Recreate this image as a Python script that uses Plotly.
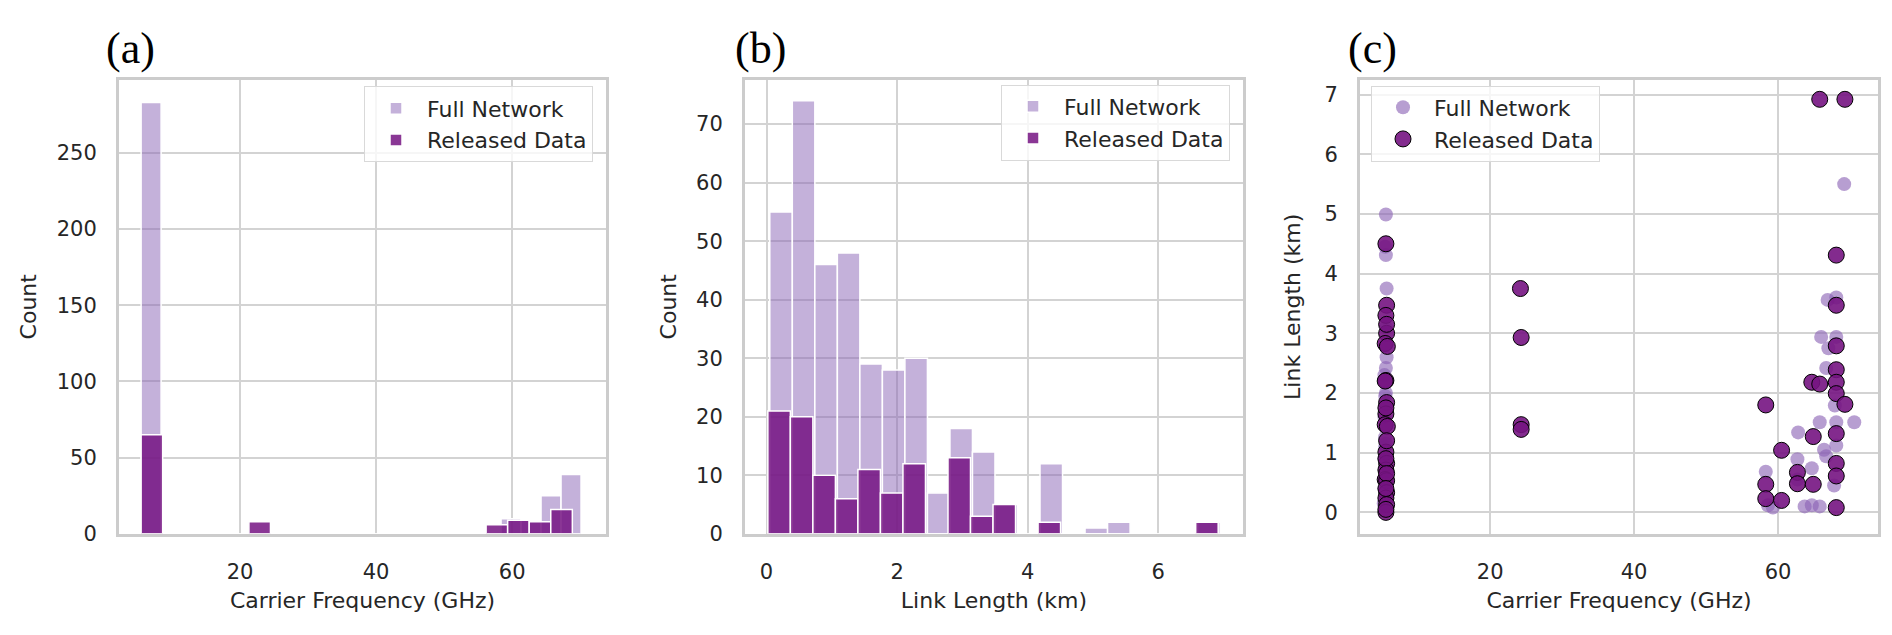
import plotly.graph_objects as go

# (a) carrier frequency histograms (GHz)
freq_full_start, freq_full_width = 5.45, 2.94
freq_full_counts = [283, 0, 0, 0, 0, 0, 0, 0, 0, 0, 0, 0, 0, 0, 0, 0, 0, 0, 10, 9, 25, 39]
freq_rel_start, freq_rel_width = 5.45, 3.17
freq_rel_counts = [65, 0, 0, 0, 0, 8, 0, 0, 0, 0, 0, 0, 0, 0, 0, 0, 6, 9, 8, 16]

# (b) link length histograms (km)
len_full_start, len_full_width = 0.05, 0.345
len_full_counts = [55, 74, 46, 48, 29, 28, 30, 7, 18, 14, 5, 0, 12, 0, 1, 2, 0, 0, 0, 2]
len_rel_start, len_rel_width = 0.02, 0.345
len_rel_counts = [21, 20, 10, 6, 11, 7, 12, 0, 13, 3, 5, 0, 2, 0, 0, 0, 0, 0, 0, 2]

# (c) scatter: frequency vs link length (visible points)
full_freq = [5.5, 5.4, 5.5, 5.6, 5.5, 5.4, 5.4, 5.5, 5.3, 5.5, 5.3, 5.4, 5.3, 5.3, 5.2, 5.6, 5.5,
             69.2, 66.9, 68.1, 66.0, 68.1, 67.0, 66.7, 67.9, 62.8, 65.8, 68.1, 70.6, 68.1, 62.7,
             66.7, 64.7, 58.3, 63.7, 65.8, 64.7, 59.3, 62.7, 58.6, 66.4, 67.8]
full_len = [4.99, 4.45, 4.31, 3.75, 2.42, 1.95, 1.26, 1.15, 2.30, 2.00, 1.60, 1.10, 0.90, 0.40, 0.15, 2.60, 3.10,
            5.50, 3.56, 3.60, 2.94, 2.94, 2.75, 2.42, 1.79, 1.34, 1.51, 1.51, 1.51, 1.12, 0.89,
            0.94, 0.74, 0.68, 0.10, 0.10, 0.12, 0.08, 0.55, 0.12, 1.05, 0.45]
rel_freq = [5.5, 5.6, 5.5, 5.6, 5.4, 5.7, 5.5, 5.4, 5.6, 5.5, 5.4, 5.7, 5.5, 5.6, 5.5, 5.4, 5.6,
            5.6, 5.5, 5.6, 5.5, 5.6, 5.5, 5.6, 5.5, 5.6, 5.5, 5.5,
            24.2, 24.3, 24.3, 24.3,
            65.8, 69.3, 68.1, 68.1, 68.1, 68.1, 64.7, 65.8, 68.1, 68.1, 69.3, 58.3, 64.9, 68.1,
            60.5, 68.1, 62.7, 62.7, 64.9, 58.3, 68.1, 58.3, 60.5, 68.1]
rel_len = [4.50, 3.47, 3.30, 3.00, 2.83, 2.78, 2.21, 2.20, 1.84, 1.65, 1.47, 1.44, 1.01, 0.82, 0.71, 0.55, 0.53,
           0.33, 0.24, 0.13, 0.00, 3.15, 0.90, 0.65, 0.40, 1.20, 1.75, 0.05,
           3.75, 2.93, 1.47, 1.39,
           6.92, 6.92, 4.31, 3.47, 2.79, 2.39, 2.18, 2.15, 2.18, 1.99, 1.81, 1.80, 1.27, 1.32,
           1.04, 0.82, 0.67, 0.48, 0.47, 0.47, 0.61, 0.23, 0.20, 0.08]

LIGHT = "rgba(138,99,181,0.5)"
LIGHT_DOT = "rgba(138,99,181,0.62)"
DARK = "rgba(118,20,130,0.85)"
DARK_DOT = "rgba(118,20,130,0.9)"


def centers(start, width, counts):
    return [start + width * (i + 0.5) for i in range(len(counts))]


fig = go.Figure()

# histogram panels
for xa, ya, lg, specs in [
    ("x", "y", "legend", [(freq_full_start, freq_full_width, freq_full_counts),
                          (freq_rel_start, freq_rel_width, freq_rel_counts)]),
    ("x2", "y2", "legend2", [(len_full_start, len_full_width, len_full_counts),
                             (len_rel_start, len_rel_width, len_rel_counts)]),
]:
    for (start, width, counts), name, col in zip(specs, ["Full Network", "Released Data"], [LIGHT, DARK]):
        fig.add_trace(go.Bar(
            x=centers(start, width, counts), y=counts, width=width,
            name=name, xaxis=xa, yaxis=ya, legend=lg,
            marker=dict(color=col, line=dict(color="white", width=1.5)),
        ))

# scatter panel
fig.add_trace(go.Scatter(
    x=full_freq, y=full_len, mode="markers", name="Full Network",
    xaxis="x3", yaxis="y3", legend="legend3",
    marker=dict(size=14, color=LIGHT_DOT, line=dict(width=0)),
))
fig.add_trace(go.Scatter(
    x=rel_freq, y=rel_len, mode="markers", name="Released Data",
    xaxis="x3", yaxis="y3", legend="legend3",
    marker=dict(size=16, color=DARK_DOT, line=dict(color="black", width=1)),
))

axis_style = dict(
    showline=True, linecolor="#cccccc", linewidth=3, mirror=True,
    showgrid=True, gridcolor="#d3d3d3", gridwidth=2, zeroline=False,
    ticks="", tickfont=dict(size=21, color="#262626"),
    title_font=dict(size=22, color="#262626"),
)
y_top, y_bot = 1 - 73 / 635, 1 - 536 / 635

fig.update_layout(
    width=1892, height=635,
    margin=dict(l=0, r=0, t=0, b=0),
    plot_bgcolor="white", paper_bgcolor="white",
    barmode="overlay",
    font=dict(family="DejaVu Sans", size=20, color="#262626"),
    xaxis=dict(axis_style, domain=[111 / 1892, 598 / 1892], range=[2.2, 73.8],
               tickvals=[20, 40, 60], title=dict(text="Carrier Frequency (GHz)", standoff=10),
               ticklabelstandoff=17, anchor="y"),
    yaxis=dict(axis_style, domain=[y_bot, y_top], range=[0, 298],
               tickvals=[0, 50, 100, 150, 200, 250], title=dict(text="Count", standoff=14),
               ticklabelstandoff=15, anchor="x"),
    xaxis2=dict(axis_style, domain=[737 / 1892, 1235 / 1892], range=[-0.33, 7.3],
                tickvals=[0, 2, 4, 6], title=dict(text="Link Length (km)", standoff=10),
                ticklabelstandoff=17, anchor="y2"),
    yaxis2=dict(axis_style, domain=[y_bot, y_top], range=[0, 77.6],
                tickvals=[0, 10, 20, 30, 40, 50, 60, 70], title=dict(text="Count", standoff=14),
                ticklabelstandoff=15, anchor="x2"),
    xaxis3=dict(axis_style, domain=[1352 / 1892, 1870 / 1892], range=[1.9, 73.9],
                tickvals=[20, 40, 60], title=dict(text="Carrier Frequency (GHz)", standoff=10),
                ticklabelstandoff=17, anchor="y3"),
    yaxis3=dict(axis_style, domain=[y_bot, y_top], range=[-0.36, 7.25],
                tickvals=[0, 1, 2, 3, 4, 5, 6, 7], title=dict(text="Link Length (km)", standoff=18),
                ticklabelstandoff=15, anchor="x3"),
)

legend_style = dict(bgcolor="rgba(255,255,255,0.8)", bordercolor="#d9d9d9", borderwidth=1,
                    font=dict(size=22, color="#262626"), yanchor="top", itemwidth=52)
fig.update_layout(
    legend=dict(legend_style, x=585 / 1892, xanchor="right", y=1 - 80 / 635),
    legend2=dict(legend_style, x=1222 / 1892, xanchor="right", y=1 - 78 / 635),
    legend3=dict(legend_style, x=1363 / 1892, xanchor="left", y=1 - 79 / 635),
)

# panel labels
for lbl, xpx in [("(a)", 96), ("(b)", 725), ("(c)", 1338)]:
    fig.add_annotation(text=lbl, x=xpx / 1892, y=1 - 41 / 635, xref="paper", yref="paper",
                       xanchor="left", yanchor="middle", showarrow=False,
                       font=dict(family="Liberation Serif", size=44, color="black"))

fig.write_html("out.html")
